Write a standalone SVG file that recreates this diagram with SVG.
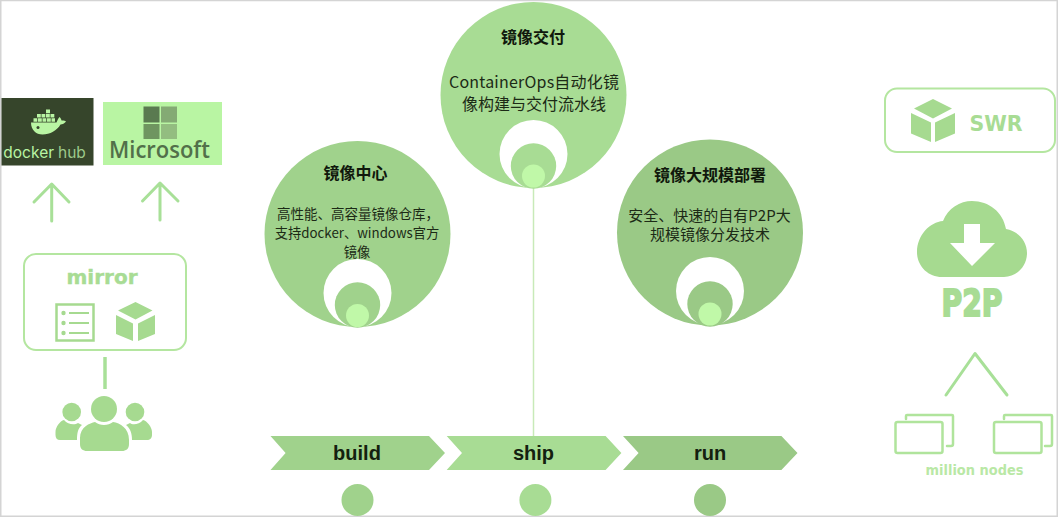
<svg xmlns="http://www.w3.org/2000/svg" width="1058" height="517" viewBox="0 0 1058 517">
<style>
.ttl{font:bold 16px "Noto Sans CJK SC","Liberation Sans",sans-serif;fill:#10180c;text-anchor:middle}
.bd{font-family:"Noto Sans CJK SC",sans-serif;fill:#1c2a16;text-anchor:middle}
.stage{font:bold 20px "Liberation Sans",sans-serif;fill:#14200f;text-anchor:middle}
.lab{font-family:"DejaVu Sans",sans-serif;font-weight:bold;fill:#a8dc94;text-anchor:middle}
.ln{fill:none;stroke:#a8e098;stroke-width:3;stroke-linecap:round;stroke-linejoin:round}
.box{fill:#fff;stroke:#b4e6a0;stroke-width:2}
.ic{fill:#a6da90}
.w{fill:#fff}.i{fill:#c0f8a8}
</style>
<rect width="1058" height="517" fill="#fff"/>
<path d="M.75 517V.5H1057.25V516.25H0" fill="none" stroke="#d4d4d4" stroke-width="1.5"/>

<g id="connectors">
<path d="M533.5 188V436" stroke="#c8eab8" stroke-width="1.5" fill="none"/>
<path class="ln" d="M51.7 221V185M34 202L51.7 184L69 202"/>
<path class="ln" d="M160 220V184M142.5 201L160 183L178 201"/>
<path d="M105 357V389" stroke="#a8e098" stroke-width="3.5" fill="none"/>
<path class="ln" d="M946 395L975 353.5L1007 395"/>
</g>

<g id="docker-hub">
<rect x="1.5" y="98" width="92" height="67.5" fill="#36452b"/>
<g fill="#b9f5a3">
<path d="M31 122.500H56.500C57.500 120.500 58 118.500 59.500 117C60.500 118 61.500 119.500 61.500 120.500C63 120.300 65 120.500 66 121.500C64.500 123.500 62.500 124.500 60.500 124.500C57 130.500 50 134.500 42.500 134.500C36 134.500 31 130 31 122.500Z"/>
<path d="M33.500 118.200h3.800v3.600h-3.800zM38 118.200h3.800v3.600h-3.800zM42.500 118.200h3.800v3.600h-3.800zM47 118.200h3.800v3.600h-3.800zM51.500 118.200h3.500v3.600h-3.500zM37 114h3.800v3.600h-3.800zM41.500 114h3.800v3.600h-3.800zM46 114h3.800v3.600h-3.800zM50.500 114h3.800v3.600h-3.800zM46 109.500h4v3.800h-4z"/>
</g>
<circle cx="38" cy="127.500" r="1.500" fill="#36452b"/>
<text x="54" y="158" font-family="Inter,'Open Sans',sans-serif" font-size="15.500" fill="#b9f5a3" text-anchor="end">docker</text>
<text x="58" y="158" font-family="Inter,'Open Sans',sans-serif" font-size="15.500" fill="#9cc98a">hub</text>
</g>

<g id="microsoft">
<rect x="103" y="102" width="119" height="63" fill="#b9f5a3"/>
<rect x="143.500" y="106.500" width="16" height="16" fill="#5a7a50"/>
<rect x="161" y="106.500" width="16" height="16" fill="#84aa74"/>
<rect x="143.500" y="124" width="16" height="15" fill="#6f9560"/>
<rect x="161" y="124" width="16" height="15" fill="#93bd80"/>
<text x="159.500" y="158" font-family="'Open Sans',sans-serif" font-weight="600" font-size="23.500" fill="#52704a" text-anchor="middle" textLength="101" lengthAdjust="spacingAndGlyphs">Microsoft</text>
</g>

<g id="mirror">
<rect class="box" x="24" y="254" width="162" height="96" rx="12"/>
<text class="lab" x="102" y="284" font-size="20" stroke="#a8dc94" stroke-width=".4">mirror</text>
<rect x="56.500" y="304.500" width="37" height="36" fill="none" stroke="#a6da90" stroke-width="2.500"/>
<g class="ic"><circle cx="63.500" cy="313" r="2.200"/><circle cx="63.500" cy="323" r="2.200"/><circle cx="63.500" cy="333" r="2.200"/><path d="M69 312h20v2h-20zM69 322h20v2h-20zM69 332h20v2h-20z"/></g>
<path class="ic" d="M135.500 302L152.500 310.500L135.500 319.500L118 310.500ZM116 315L133 323.500V341L116 334ZM155 315V334L138 341V323.500Z"/>
</g>

<g id="users" class="ic">
<circle cx="104" cy="409" r="13"/>
<circle cx="71.700" cy="412" r="9.300"/>
<circle cx="135" cy="412" r="9.300"/>
<path d="M80 438C80 427 90 423 95 422C100 426 108 426 113 422C120 423 129 428 129 440V444C129 449 126 451 122 451H87C83 451 80 449 80 444Z"/>
<path d="M55.500 432C55.500 427 60 421 64 420C68 425 75 425 78 423L82 425C78 428 77 433 77 440H60C57 440 55.500 438 55.500 435Z"/>
<path d="M152 432C152 427 147 421 143 420C139 425 132 425 130 423L126 425C130 428 132 433 132 440H147C150 440 152 438 152 435Z"/>
</g>

<g id="image-center">
<circle cx="357.500" cy="234" r="93" fill="#a0d28c"/>
<circle class="w" cx="357.500" cy="293" r="34"/>
<circle cx="357.500" cy="305" r="22.700" fill="#a0d28c"/>
<circle class="i" cx="357.500" cy="315.500" r="11.500"/>
<text class="ttl" x="355.500" y="179">镜像中心</text>
<text class="bd" x="358" y="219" font-size="13.500">高性能、高容量镜像仓库，</text>
<text class="bd" x="357" y="237.500" font-size="13.300">支持docker、windows官方</text>
<text class="bd" x="357" y="256.500" font-size="13.300">镜像</text>
</g>

<g id="image-delivery">
<circle cx="533.500" cy="95" r="93" fill="#a8dc94"/>
<circle class="w" cx="533.500" cy="154" r="34"/>
<circle cx="533.500" cy="166" r="22.700" fill="#a8dc94"/>
<circle class="i" cx="533.500" cy="176" r="11.500"/>
<text class="ttl" x="533" y="42.500">镜像交付</text>
<text class="bd" x="534" y="87.500" font-size="16" textLength="170">ContainerOps自动化镜</text>
<text class="bd" x="534" y="110" font-size="16">像构建与交付流水线</text>
</g>

<g id="image-deploy">
<circle cx="710" cy="232.500" r="93" fill="#9ac986"/>
<circle class="w" cx="710" cy="291" r="34"/>
<circle cx="710" cy="304" r="22.700" fill="#9ac986"/>
<circle class="i" cx="710" cy="314" r="11.500"/>
<text class="ttl" x="710" y="180.500">镜像大规模部署</text>
<text class="bd" x="709.500" y="221" font-size="15">安全、快速的自有P2P大</text>
<text class="bd" x="710" y="240" font-size="15">规模镜像分发技术</text>
</g>

<g id="stage-build">
<path d="M270.500 436H429L445 453L429 470H270.500L285.600 453Z" fill="#a0d28c"/>
<text class="stage" x="357" y="460">build</text>
<circle cx="357.500" cy="500" r="16" fill="#a0d28c"/>
</g>
<g id="stage-ship">
<path d="M446.700 436H605.600L621.400 453L605.600 470H446.700L462 453Z" fill="#a8dc94"/>
<text class="stage" x="533.500" y="460">ship</text>
<circle cx="535.400" cy="500" r="16" fill="#a8dc94"/>
</g>
<g id="stage-run">
<path d="M623 436H781.400L797.500 453L781.400 470H623L638.600 453Z" fill="#9ac986"/>
<text class="stage" x="710" y="460">run</text>
<circle cx="710" cy="500" r="16" fill="#9ac986"/>
</g>

<g id="swr">
<rect class="box" x="885" y="88.500" width="170" height="63.500" rx="12"/>
<path class="ic" d="M933 99L952 108.500L933 118.500L914 108.500ZM911 113L931 122.500V142L911 133.500ZM955 113V133.500L935 142V122.500Z"/>
<text class="lab" x="996" y="131" font-size="20.500">SWR</text>
</g>

<g id="p2p">
<path class="ic" d="M942 277C928 277 917 266 917 252C917 235 930 222 943 221C948 208 960 201 972 201C989 201 1003 212 1006 229C1018 231 1027 241 1027 253C1027 266 1017 277 1004 277Z"/>
<path class="w" d="M964 224H980V243H995L972 266L950 243H964Z"/>
<text class="lab" x="972" y="316" font-size="38" stroke="#a8dc94" stroke-width="2" textLength="61" lengthAdjust="spacingAndGlyphs">P2P</text>
</g>

<g id="million-nodes">
<g fill="none" stroke="#b0e49c" stroke-width="2.500" stroke-linejoin="round" stroke-linecap="round">
<path d="M906 419V416Q906 415 907 415H952Q953 415 953 416V444Q953 446 951 446H947"/>
<rect x="895.500" y="422" width="47" height="31" rx="2"/>
<path d="M1004 419V416Q1004 415 1005 415H1051Q1052 415 1052 416V444Q1052 446 1050 446H1045"/>
<rect x="994" y="422" width="47.500" height="31" rx="2"/>
</g>
<text class="lab" x="974.500" y="475" font-size="14" style="fill:#b9e8a5" textLength="98" lengthAdjust="spacingAndGlyphs">million nodes</text>
</g>
</svg>
